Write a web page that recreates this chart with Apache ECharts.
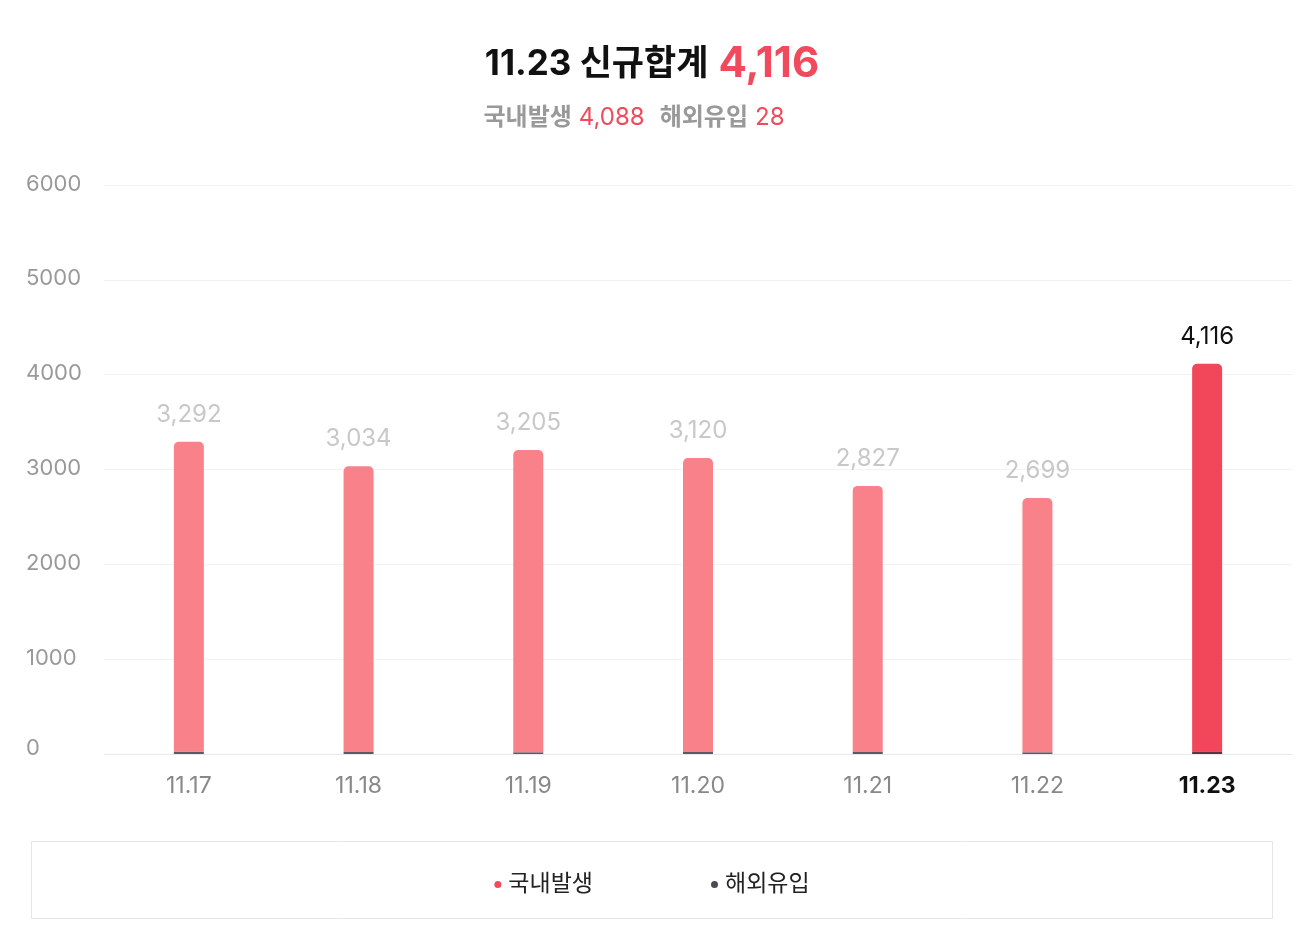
<!DOCTYPE html>
<html><head><meta charset="utf-8">
<script src="https://cdn.jsdelivr.net/npm/echarts@6/dist/echarts.min.js"></script>
<style>html,body{margin:0;padding:0;background:#fff}#c{width:1304px;height:932px}</style>
</head><body><div id="c"></div>
<script>
const categories = ['11.17','11.18','11.19','11.20','11.21','11.22','11.23'];
const domestic = [3267, 3012, 3187, 3099, 2805, 2681, 4088];
const overseas = [25, 22, 18, 21, 22, 18, 28];
const yTicks = [0, 1000, 2000, 3000, 4000, 5000, 6000];
const totals = domestic.map((d, i) => d + overseas[i]);
const last = categories.length - 1;
const F = 'Inter, "Noto Sans CJK KR", sans-serif';
const fmt = n => n.toLocaleString('en-US');

const chart = echarts.init(document.getElementById('c'));
chart.setOption({
  animation: false,
  textStyle: { fontFamily: F },
  title: {
    left: 'center', top: 38,
    text: '{a|' + categories[last] + ' 신규합계}{b|' + fmt(totals[last]) + '}',
    subtext: '{g|국내발생}{r|' + fmt(domestic[last]) + '}{g2|해외유입}{r2|' + fmt(overseas[last]) + '}',
    itemGap: 21,
    textStyle: { rich: {
      a: { fontSize: 35, fontWeight: 'bold', color: '#111', fontFamily: F, padding: [0, 10, 0, 0] },
      b: { fontSize: 42, fontWeight: 'bold', color: '#f04a5c', fontFamily: F }
    }},
    subtextStyle: { rich: {
      g: { fontSize: 24, color: '#999', fontFamily: F, fontWeight: 'bold', padding: [0, 7, 0, 0] },
      g2: { fontSize: 24, color: '#999', fontFamily: F, fontWeight: 'bold', padding: [0, 7, 0, 15] },
      r: { fontSize: 24, color: '#f04a5c', fontFamily: F },
      r2: { fontSize: 24, color: '#f04a5c', fontFamily: F, padding: [0, 36, 0, 0] }
    }}
  },
  graphic: [{
    type: 'rect',
    shape: { x: 31.5, y: 841.5, width: 1241, height: 77 },
    style: { fill: 'none', stroke: '#e6e6e6', lineWidth: 1 }
  }],
  legend: {
    left: 'center', top: 868, itemGap: 118,
    icon: 'circle', itemWidth: 7, itemHeight: 7,
    data: ['국내발생', '해외유입'],
    textStyle: { fontSize: 23, color: '#222', fontFamily: F, padding: [0,0,0,2] }
  },
  grid: { left: 104, right: 12, top: 185, bottom: 178 },
  xAxis: {
    type: 'category', data: categories,
    axisTick: { show: false },
    axisLine: { lineStyle: { color: '#e8e8e8' } },
    axisLabel: {
      margin: 21, fontSize: 23, color: '#888', fontFamily: F,
      formatter: (v, i) => i === last ? '{h|' + v + '}' : v,
      rich: { h: { fontSize: 23, fontWeight: 'bold', color: '#111', fontFamily: F } }
    }
  },
  yAxis: {
    type: 'value', min: yTicks[0], max: yTicks[yTicks.length - 1], interval: 1000,
    axisLine: { show: false }, axisTick: { show: false },
    splitLine: { lineStyle: { color: '#f2f2f2' } },
    axisLabel: {
      align: 'left', margin: 78, fontSize: 22, color: '#999', fontFamily: F,
      formatter: v => v === 0 ? '{z|0}' : '{n|' + v + '}',
      rich: {
        z: { fontSize: 22, color: '#999', fontFamily: F, padding: [0, 0, 12, 0] },
        n: { fontSize: 22, color: '#999', fontFamily: F, padding: [0, 0, 2, 0] }
      }
    }
  },
  series: [
    {
      name: '해외유입', type: 'bar', stack: 'total', barWidth: 30,
      itemStyle: { color: '#4a4a55' },
      data: overseas.map((v, i) => ({ value: v, itemStyle: { color: i === last ? '#5a3440' : '#5a5a66' } }))
    },
    {
      name: '국내발생', type: 'bar', stack: 'total', barWidth: 30,
      itemStyle: { color: '#f04a5c' },
      data: domestic.map((v, i) => ({
        value: v,
        itemStyle: { color: i === last ? '#f2475a' : '#f9818a', borderRadius: [5,5,0,0] },
        label: i === last ? { color: '#111' } : {}
      })),
      label: {
        show: true, position: 'top', distance: 15,
        fontSize: 24, color: '#c8c8c8', fontFamily: F,
        formatter: p => fmt(totals[p.dataIndex])
      }
    }
  ]
});
</script></body></html>
